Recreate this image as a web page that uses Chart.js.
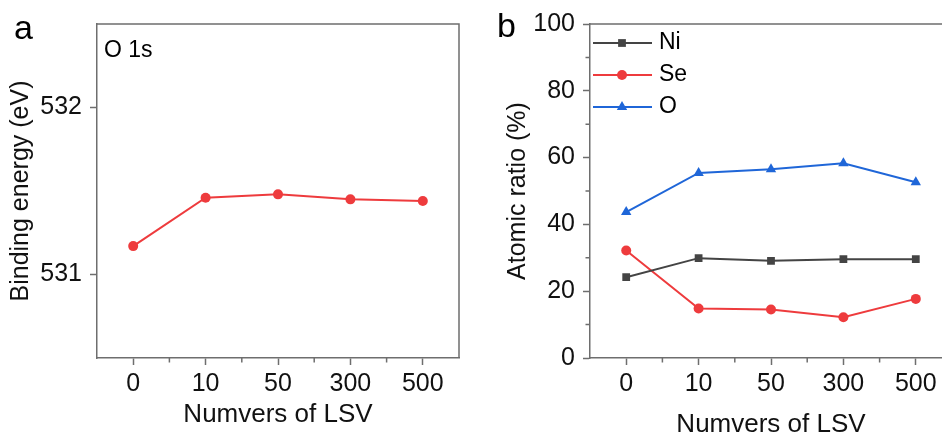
<!DOCTYPE html>
<html lang="en">
<head>
<meta charset="UTF-8">
<title>O 1s binding energy and atomic ratio vs LSV</title>
<script src="https://cdn.jsdelivr.net/npm/chart.js"></script>
<style>
  html, body { margin: 0; padding: 0; background: #fff; overflow: hidden; }
  body { width: 942px; height: 437px; position: relative; font-family: "Liberation Sans", Arial, sans-serif; }
  canvas { position: absolute; top: 0; }
  .lbl { position: absolute; line-height: 1; color: #000; white-space: nowrap; }
</style>
</head>
<body>
<canvas id="chartA" width="470" height="437" style="left:0"></canvas>
<canvas id="chartB" width="480" height="440" style="left:480px"></canvas>
<div class="lbl" style="left:14px; top:10px; font-size:34px;">a</div>
<div class="lbl" style="left:497px; top:8px; font-size:34px;">b</div>
<div class="lbl" style="left:104px; top:38px; font-size:23px;">O 1s</div>
<script>
    // data
    const lsvLabels = ['0', '10', '50', '300', '500'];
    const bindingEnergy = [531.17, 531.46, 531.48, 531.45, 531.44];
    const energyTicks = [531, 532];
    const niRatio = [24.2, 29.9, 29.1, 29.6, 29.6];
    const seRatio = [32.2, 14.8, 14.5, 12.2, 17.7];
    const oRatio = [43.7, 55.4, 56.5, 58.3, 52.6];

    const axisColor = '#6e6e6e';
    const fontFamily = '"Liberation Sans", Arial, sans-serif';
    Chart.defaults.font.family = fontFamily;
    Chart.defaults.color = '#111';

    // box on top/right plus small minor ticks
    const framePlugin = {
        id: 'frame',
        afterDraw(chart, args, opts) {
            const { ctx, chartArea: a } = chart;
            ctx.save();
            ctx.strokeStyle = axisColor;
            ctx.lineWidth = 1.5;
            ctx.beginPath();
            ctx.moveTo(a.left, a.top);
            ctx.lineTo(a.right, a.top);
            ctx.lineTo(a.right, a.bottom);
            const xs = chart.scales.x;
            for (let i = 0; i < xs.ticks.length - 1; i++) {
                const px = (xs.getPixelForTick(i) + xs.getPixelForTick(i + 1)) / 2;
                ctx.moveTo(px, a.bottom);
                ctx.lineTo(px, a.bottom + 4.5);
            }
            if (opts.yMinor) {
                const ys = chart.scales.y;
                for (let i = 0; i < ys.ticks.length - 1; i++) {
                    const v = (ys.ticks[i].value + ys.ticks[i + 1].value) / 2;
                    const py = ys.getPixelForValue(v);
                    ctx.moveTo(a.left, py);
                    ctx.lineTo(a.left - 4.5, py);
                }
            }
            ctx.stroke();
            ctx.restore();
        }
    };

    // legend: line + marker + name, stacked in the top-left corner
    const lineLegend = {
        id: 'lineLegend',
        afterDraw(chart, args, opts) {
            if (!opts.show) return;
            const { ctx, chartArea: a } = chart;
            chart.data.datasets.forEach((ds, i) => {
                const y = a.top + 19 + i * 32;
                const x0 = a.left + 3;
                ctx.save();
                ctx.strokeStyle = ds.borderColor;
                ctx.lineWidth = 2;
                ctx.beginPath();
                ctx.moveTo(x0, y);
                ctx.lineTo(x0 + 59, y);
                ctx.stroke();
                ctx.fillStyle = ds.pointBackgroundColor;
                ctx.strokeStyle = ds.pointBackgroundColor;
                Chart.helpers.drawPoint(ctx, {
                    pointStyle: ds.pointStyle, radius: ds.pointRadius, rotation: 0, borderWidth: 0
                }, x0 + 29, y);
                ctx.fillStyle = '#000';
                ctx.font = '23px ' + fontFamily;
                ctx.textBaseline = 'middle';
                ctx.fillText(ds.label, x0 + 66, y);
                ctx.restore();
            });
        }
    };

    function xAxis(titlePadBottom, height) {
        return {
            type: 'category',
            offset: true,
            grid: { display: true, drawOnChartArea: false, drawTicks: true, tickLength: 7, tickColor: axisColor, tickWidth: 1.5, offset: false },
            border: { display: true, color: axisColor, width: 1.5 },
            ticks: { font: { size: 25 }, padding: 4, color: '#111', maxRotation: 0 },
            title: { display: true, text: 'Numvers of LSV', font: { size: 26 }, color: '#111', padding: { top: 0, bottom: titlePadBottom } },
            afterFit: s => { s.height = height; }
        };
    }

    new Chart(document.getElementById('chartA'), {
        type: 'line',
        data: {
            labels: lsvLabels,
            datasets: [{
                label: 'O 1s',
                data: bindingEnergy,
                borderColor: '#ee3b3d',
                borderWidth: 2,
                pointStyle: 'circle',
                pointRadius: 5,
                pointBackgroundColor: '#ee3b3d',
                pointBorderWidth: 0,
                tension: 0
            }]
        },
        options: {
            responsive: false,
            animation: false,
            devicePixelRatio: 1,
            layout: { padding: { top: 24, right: 11, left: 0, bottom: 0 } },
            plugins: { legend: { display: false }, tooltip: { enabled: false }, frame: { yMinor: false } },
            scales: {
                x: xAxis(7, 79),
                y: {
                    min: 530.5,
                    max: 532.5,
                    afterBuildTicks: s => { s.ticks = energyTicks.map(v => ({ value: v })); },
                    grid: { display: true, drawOnChartArea: false, drawTicks: true, tickLength: 7, tickColor: axisColor, tickWidth: 1.5 },
                    border: { display: true, color: axisColor, width: 1.5 },
                    ticks: { font: { size: 25 }, padding: 8, color: '#111' },
                    title: { display: true, text: 'Binding energy (eV)', font: { size: 25 }, color: '#111', padding: { top: 6, bottom: 0 } },
                    afterFit: s => { s.width = 97; }
                }
            }
        },
        plugins: [framePlugin]
    });

    new Chart(document.getElementById('chartB'), {
        type: 'line',
        data: {
            labels: lsvLabels,
            datasets: [
                { label: 'Ni', data: niRatio, borderColor: '#444444', pointBackgroundColor: '#444444', pointStyle: 'rect', pointRadius: 5.5 },
                { label: 'Se', data: seRatio, borderColor: '#ee3b3d', pointBackgroundColor: '#ee3b3d', pointStyle: 'circle', pointRadius: 5 },
                { label: 'O', data: oRatio, borderColor: '#1f66d8', pointBackgroundColor: '#1f66d8', pointStyle: 'triangle', pointRadius: 6 }
            ].map(d => Object.assign({ borderWidth: 2, pointBorderWidth: 0, tension: 0 }, d))
        },
        options: {
            responsive: false,
            animation: false,
            devicePixelRatio: 1,
            layout: { padding: { top: 24, right: 8, left: 0, bottom: 0 } },
            plugins: { legend: { display: false }, tooltip: { enabled: false }, frame: { yMinor: true }, lineLegend: { show: true } },
            scales: {
                x: xAxis(0, 82),
                y: {
                    min: 0,
                    max: 100,
                    ticks: { stepSize: 20, font: { size: 25 }, padding: 8, color: '#111' },
                    grid: { display: true, drawOnChartArea: false, drawTicks: true, tickLength: 7, tickColor: axisColor, tickWidth: 1.5 },
                    border: { display: true, color: axisColor, width: 1.5 },
                    title: { display: true, text: 'Atomic ratio (%)', font: { size: 25 }, color: '#111', padding: { top: 23, bottom: 0 } },
                    afterFit: s => { s.width = 110; }
                }
            }
        },
        plugins: [framePlugin, lineLegend]
    });
</script>
</body>
</html>
